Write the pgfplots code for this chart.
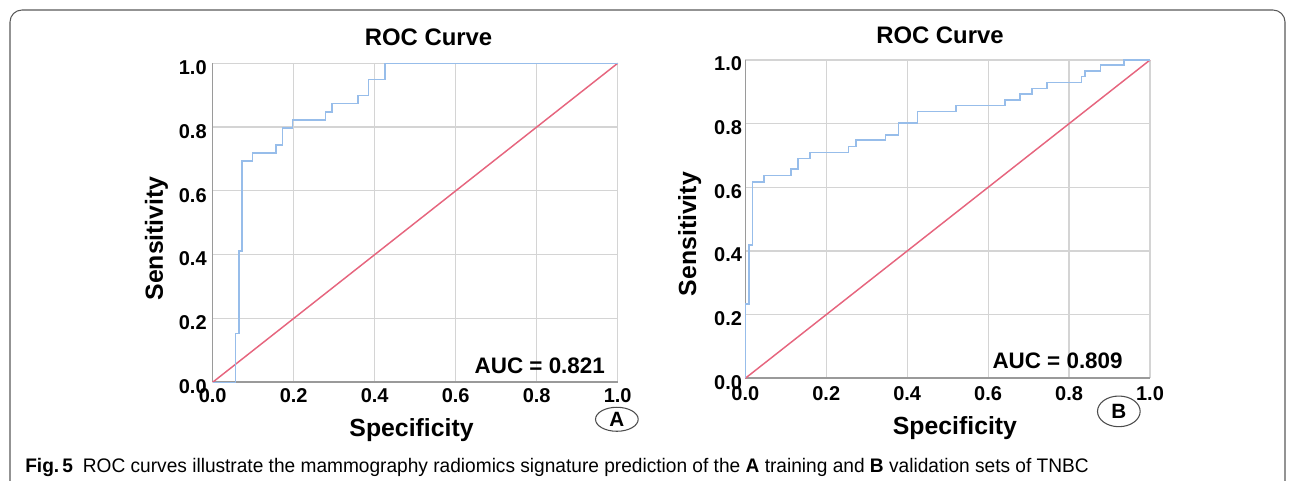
\documentclass[border=0pt]{standalone}
\usepackage{fontspec}
\setmainfont{Liberation Sans}
\newfontfamily\capfont[FakeStretch=0.975]{Liberation Sans}
\usepackage{pgfplots}
\pgfplotsset{compat=1.18}
\usetikzlibrary{shapes.geometric}

\definecolor{roc}{HTML}{97BDEA}
\definecolor{ref}{HTML}{E6657E}
\definecolor{gridc}{HTML}{D4D4D4}
\definecolor{axc}{HTML}{9A9A9A}

\pgfplotsset{
  rocax/.style={
    scale only axis,
    xmin=0, xmax=1, ymin=0, ymax=1,
    xtick={0,0.2,...,1}, ytick={0,0.2,...,1},
    grid=major,
    grid style={gridc, line width=0.9pt},
    axis lines*=left,
    axis line style={axc, line width=1.2pt},
    major tick length=0pt,
    tick label style={font=\fontsize{15}{16}\selectfont\bfseries},
    /pgf/number format/assume math mode=true,
    /pgf/number format/.cd, fixed, fixed zerofill, precision=1,
    /pgfplots/.cd,
    title style={font=\fontsize{17.9}{19}\selectfont\bfseries, anchor=base, inner sep=0pt},
    label style={font=\fontsize{18.6}{20}\selectfont\bfseries, inner sep=0pt},
    xlabel style={anchor=base},
    ylabel style={anchor=base},
    xlabel={Specificity}, ylabel={Sensitivity},
    title={ROC Curve},
    clip=false,
  },
}

\begin{document}
\begin{tikzpicture}
\useasboundingbox (0,0) rectangle (971.25pt,360pt);
\draw[black!65, line width=0.8pt, rounded corners=9pt] (7.5pt,-30pt) rectangle (963.75pt,352.5pt);

% A: training set
\begin{axis}[rocax,
  at={(159.5pt,73.3pt)}, anchor=south west,
  width=303.75pt, height=239.25pt,
  title style={at={(axis description cs:0.533,1)}, yshift=7.7pt},
  xlabel style={at={(axis description cs:0.491,0)}, yshift=-41pt},
  ylabel style={at={(axis description cs:0,0.451)}, yshift=37.3pt},
  xticklabel style={anchor=base, inner sep=0pt, yshift=-14.8pt},
  yticklabel style={anchor=east, inner sep=0pt, xshift=-4.3pt, yshift=-3.2pt},
]
\addplot[ref, line width=1.1pt] coordinates {(0,0) (1,1)};
\addplot[roc, line width=1.1pt] coordinates {
 (0,0) (0.057,0) (0.057,0.153) (0.065,0.153) (0.065,0.411) (0.072,0.411)
 (0.072,0.694) (0.098,0.694) (0.098,0.719) (0.156,0.719) (0.156,0.744)
 (0.172,0.744) (0.172,0.797) (0.197,0.797) (0.197,0.822) (0.278,0.822)
 (0.278,0.847) (0.295,0.847) (0.295,0.874) (0.359,0.874) (0.359,0.899)
 (0.385,0.899) (0.385,0.949) (0.426,0.949) (0.426,1) (1,1)};
\node[anchor=base east, inner sep=0pt, font=\fontsize{16.8}{18}\selectfont\bfseries] at (axis cs:0.969,0.029) {AUC = 0.821};
\node[draw=black!70, line width=0.8pt, ellipse, inner sep=0pt, minimum width=32pt, minimum height=18pt,
  font=\fontsize{15.5}{16}\selectfont\bfseries] at (axis cs:0.998,-0.116) {A};
\end{axis}

% B: validation set
\begin{axis}[rocax,
  at={(559pt,76.3pt)}, anchor=south west,
  width=303.5pt, height=238.7pt,
  title style={at={(axis description cs:0.481,1)}, yshift=6.75pt},
  xlabel style={at={(axis description cs:0.518,0)}, yshift=-42.5pt},
  ylabel style={at={(axis description cs:0,0.453)}, yshift=37pt},
  xticklabel style={anchor=base, inner sep=0pt, yshift=-16.3pt},
  yticklabel style={anchor=east, inner sep=0pt, xshift=-2.3pt, yshift=-3pt},
]
\addplot[ref, line width=1.1pt] coordinates {(0,0) (1,1)};
\addplot[roc, line width=1.1pt] coordinates {
 (0,0) (0,0.234) (0.009,0.234) (0.009,0.419) (0.018,0.419) (0.018,0.617)
 (0.046,0.617) (0.046,0.637) (0.113,0.637) (0.113,0.657) (0.130,0.657)
 (0.130,0.691) (0.160,0.691) (0.160,0.710) (0.255,0.710) (0.255,0.728)
 (0.273,0.728) (0.273,0.748) (0.347,0.748) (0.347,0.764) (0.378,0.764)
 (0.378,0.802) (0.425,0.802) (0.425,0.838) (0.521,0.838) (0.521,0.857)
 (0.642,0.857) (0.642,0.874) (0.679,0.874) (0.679,0.893) (0.708,0.893)
 (0.708,0.911) (0.746,0.911) (0.746,0.930) (0.831,0.930) (0.831,0.948)
 (0.839,0.948) (0.839,0.965) (0.878,0.965) (0.878,0.984) (0.936,0.984)
 (0.936,1) (1,1)};
\node[anchor=base east, inner sep=0pt, font=\fontsize{16.8}{18}\selectfont\bfseries] at (axis cs:0.933,0.032) {AUC = 0.809};
\node[draw=black!70, line width=0.8pt, ellipse, inner sep=0pt, minimum width=32pt, minimum height=23pt,
  font=\fontsize{15.5}{16}\selectfont\bfseries] at (axis cs:0.923,-0.104) {B};
\end{axis}

\node[anchor=base west, inner sep=0pt, font=\capfont\fontsize{14.7}{16}\selectfont] at (18.75pt,6pt)
  {\textbf{Fig.\,5}\enspace ROC curves illustrate the mammography radiomics signature prediction of the \textbf{A} training and \textbf{B} validation sets of TNBC};
\end{tikzpicture}
\end{document}
